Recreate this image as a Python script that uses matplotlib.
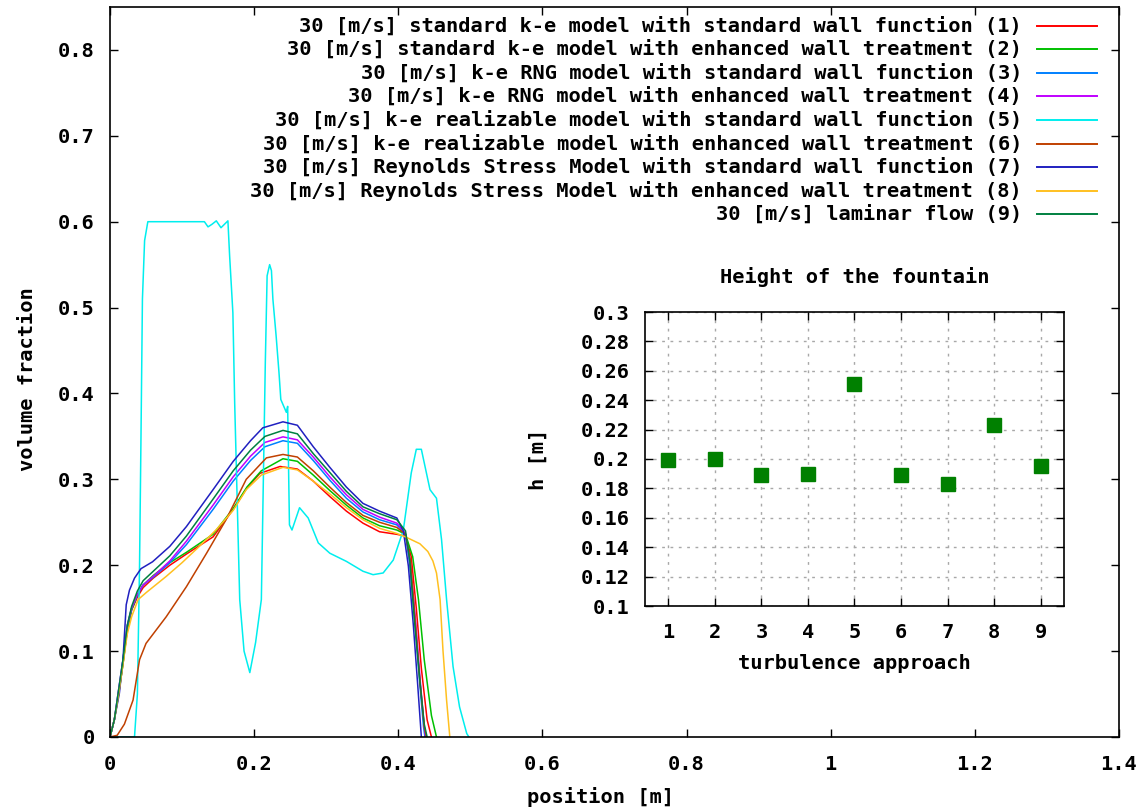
import matplotlib
matplotlib.use("Agg")
import matplotlib.pyplot as plt

plt.rcParams['font.family'] = ['DejaVu Sans Mono']
plt.rcParams['font.weight'] = 'bold'
plt.rcParams['axes.labelweight'] = 'bold'
plt.rcParams['axes.titleweight'] = 'bold'
FS = 14.7

# ---- volume fraction profiles along the channel (position [m], volume fraction) ----
pos_1 = [0.000, 0.006, 0.012, 0.018, 0.024, 0.030, 0.038, 0.046, 0.060, 0.083,
         0.106, 0.143, 0.171, 0.190, 0.208, 0.236, 0.260, 0.282, 0.305, 0.328,
         0.351, 0.374, 0.398, 0.410, 0.418, 0.425, 0.432, 0.440, 0.446]
vf_1 = [0.000, 0.020, 0.050, 0.085, 0.125, 0.148, 0.163, 0.174, 0.185, 0.200,
        0.213, 0.233, 0.265, 0.290, 0.307, 0.315, 0.312, 0.298, 0.280, 0.263,
        0.249, 0.239, 0.236, 0.234, 0.210, 0.150, 0.080, 0.020, 0.000]

pos_2 = [0.000, 0.006, 0.012, 0.018, 0.024, 0.030, 0.038, 0.046, 0.060, 0.083,
         0.106, 0.143, 0.171, 0.190, 0.210, 0.240, 0.260, 0.282, 0.305, 0.328,
         0.351, 0.374, 0.398, 0.410, 0.420, 0.428, 0.436, 0.446, 0.453]
vf_2 = [0.000, 0.020, 0.050, 0.085, 0.125, 0.148, 0.165, 0.177, 0.188, 0.203,
        0.215, 0.236, 0.266, 0.291, 0.310, 0.324, 0.321, 0.305, 0.287, 0.270,
        0.255, 0.246, 0.241, 0.236, 0.210, 0.160, 0.090, 0.025, 0.000]

pos_3 = [0.000, 0.006, 0.012, 0.018, 0.024, 0.030, 0.038, 0.046, 0.060, 0.083,
         0.106, 0.143, 0.171, 0.195, 0.215, 0.240, 0.260, 0.282, 0.305, 0.328,
         0.351, 0.374, 0.398, 0.410, 0.416, 0.423, 0.430, 0.435, 0.437]
vf_3 = [0.000, 0.020, 0.055, 0.090, 0.130, 0.150, 0.166, 0.177, 0.186, 0.203,
        0.224, 0.265, 0.298, 0.322, 0.338, 0.345, 0.342, 0.322, 0.299, 0.278,
        0.262, 0.253, 0.247, 0.236, 0.200, 0.135, 0.060, 0.012, 0.000]

pos_4 = [0.000, 0.006, 0.012, 0.018, 0.024, 0.030, 0.038, 0.046, 0.060, 0.083,
         0.106, 0.143, 0.171, 0.195, 0.215, 0.240, 0.260, 0.282, 0.305, 0.328,
         0.351, 0.374, 0.398, 0.410, 0.417, 0.424, 0.431, 0.436, 0.438]
vf_4 = [0.000, 0.020, 0.055, 0.090, 0.130, 0.150, 0.166, 0.177, 0.187, 0.205,
        0.228, 0.270, 0.303, 0.327, 0.343, 0.3495, 0.346, 0.326, 0.303, 0.282,
        0.265, 0.256, 0.249, 0.237, 0.200, 0.135, 0.060, 0.012, 0.000]

pos_5 = [0.000, 0.034, 0.038, 0.041, 0.043, 0.045, 0.048, 0.0525,
         0.131, 0.136, 0.1415, 0.1475, 0.154, 0.1636,
         0.166, 0.1705, 0.173, 0.180, 0.186, 0.194, 0.202, 0.210,
         0.2155, 0.218, 0.2215, 0.224, 0.226, 0.2305, 0.2345, 0.237,
         0.2447, 0.2465, 0.248, 0.249, 0.2525, 0.263, 0.275, 0.289,
         0.305, 0.328, 0.351, 0.365, 0.379, 0.393, 0.407, 0.418,
         0.425, 0.432, 0.444, 0.453, 0.460, 0.467, 0.476, 0.485,
         0.495, 0.498]
vf_5 = [0.000, 0.000, 0.050, 0.200, 0.350, 0.510, 0.578, 0.600,
        0.600, 0.594, 0.597, 0.601, 0.593, 0.601,
        0.560, 0.494, 0.389, 0.160, 0.100, 0.075, 0.110, 0.160,
        0.436, 0.537, 0.550, 0.543, 0.510, 0.467, 0.424, 0.393,
        0.378, 0.385, 0.300, 0.247, 0.241, 0.267, 0.255, 0.226,
        0.214, 0.2045, 0.193, 0.189, 0.191, 0.206, 0.241, 0.3075,
        0.335, 0.335, 0.288, 0.278, 0.230, 0.160, 0.082, 0.035,
        0.004, 0.000]

pos_6 = [0.000, 0.010, 0.020, 0.032, 0.041, 0.050, 0.078, 0.106, 0.134, 0.161,
         0.189, 0.217, 0.240, 0.260, 0.282, 0.305, 0.328, 0.351, 0.374, 0.398,
         0.410, 0.417, 0.423, 0.430, 0.436, 0.439]
vf_6 = [0.000, 0.002, 0.015, 0.043, 0.090, 0.109, 0.140, 0.175, 0.214, 0.253,
        0.300, 0.325, 0.329, 0.326, 0.310, 0.291, 0.273, 0.258, 0.250, 0.244,
        0.236, 0.205, 0.140, 0.065, 0.012, 0.000]

pos_7 = [0.000, 0.006, 0.013, 0.018, 0.0225, 0.027, 0.034, 0.043, 0.059, 0.083,
         0.106, 0.143, 0.171, 0.195, 0.212, 0.240, 0.260, 0.282, 0.305, 0.328,
         0.351, 0.374, 0.398, 0.407, 0.414, 0.421, 0.427, 0.432]
vf_7 = [0.000, 0.020, 0.051, 0.090, 0.154, 0.171, 0.185, 0.196, 0.204, 0.222,
        0.245, 0.288, 0.321, 0.345, 0.360, 0.367, 0.363, 0.338, 0.314, 0.291,
        0.272, 0.263, 0.255, 0.240, 0.199, 0.129, 0.060, 0.000]

pos_8 = [0.000, 0.006, 0.012, 0.018, 0.024, 0.030, 0.039, 0.050, 0.078, 0.100,
         0.124, 0.147, 0.171, 0.189, 0.210, 0.240, 0.260, 0.282, 0.305, 0.328,
         0.351, 0.374, 0.398, 0.410, 0.420, 0.430, 0.441, 0.448, 0.453, 0.458,
         0.462, 0.467, 0.4715]
vf_8 = [0.000, 0.020, 0.050, 0.085, 0.120, 0.140, 0.160, 0.168, 0.187, 0.203,
        0.222, 0.241, 0.264, 0.288, 0.305, 0.314, 0.311, 0.298, 0.283, 0.267,
        0.253, 0.243, 0.237, 0.233, 0.229, 0.225, 0.216, 0.205, 0.191, 0.160,
        0.101, 0.043, 0.000]

pos_9 = [0.000, 0.006, 0.012, 0.018, 0.024, 0.030, 0.038, 0.046, 0.060, 0.083,
         0.106, 0.143, 0.171, 0.195, 0.215, 0.240, 0.260, 0.282, 0.305, 0.328,
         0.351, 0.374, 0.398, 0.410, 0.416, 0.422, 0.430, 0.436, 0.440]
vf_9 = [0.000, 0.020, 0.055, 0.090, 0.130, 0.152, 0.170, 0.182, 0.193, 0.211,
        0.234, 0.277, 0.310, 0.334, 0.350, 0.357, 0.353, 0.330, 0.308, 0.286,
        0.268, 0.260, 0.253, 0.240, 0.205, 0.140, 0.065, 0.015, 0.000]

series_labels = [
    "30 [m/s] standard k-e model with standard wall function (1)",
    "30 [m/s] standard k-e model with enhanced wall treatment (2)",
    "30 [m/s] k-e RNG model with standard wall function (3)",
    "30 [m/s] k-e RNG model with enhanced wall treatment (4)",
    "30 [m/s] k-e realizable model with standard wall function (5)",
    "30 [m/s] k-e realizable model with enhanced wall treatment (6)",
    "30 [m/s] Reynolds Stress Model with standard wall function (7)",
    "30 [m/s] Reynolds Stress Model with enhanced wall treatment (8)",
    "30 [m/s] laminar flow (9)",
]
series_colors = ["#ff0000", "#00c000", "#0080ff", "#c000ff", "#00eeee",
                 "#c04000", "#2020c0", "#ffc020", "#008040"]

x_ticks = [0, 0.2, 0.4, 0.6, 0.8, 1.0, 1.2, 1.4]
x_tick_labels = ["0", "0.2", "0.4", "0.6", "0.8", "1", "1.2", "1.4"]
y_ticks = [0, 0.1, 0.2, 0.3, 0.4, 0.5, 0.6, 0.7, 0.8]
y_tick_labels = ["0", "0.1", "0.2", "0.3", "0.4", "0.5", "0.6", "0.7", "0.8"]

# ---- fountain height per turbulence approach ----
approach = [1, 2, 3, 4, 5, 6, 7, 8, 9]
height = [0.199, 0.200, 0.189, 0.190, 0.251, 0.189, 0.183, 0.223, 0.195]
h_ticks = [0.10, 0.12, 0.14, 0.16, 0.18, 0.20, 0.22, 0.24, 0.26, 0.28, 0.30]
h_tick_labels = ["0.1", "0.12", "0.14", "0.16", "0.18", "0.2",
                 "0.22", "0.24", "0.26", "0.28", "0.3"]

W, H = 1145, 809
fig = plt.figure(figsize=(W / 100, H / 100), dpi=100)

# main panel
ax = fig.add_axes([110 / W, 1 - 737 / H, 1009 / W, 730 / H])
profiles = [(pos_1, vf_1), (pos_2, vf_2), (pos_3, vf_3), (pos_4, vf_4),
            (pos_5, vf_5), (pos_6, vf_6), (pos_7, vf_7), (pos_8, vf_8),
            (pos_9, vf_9)]
for (p, v), c in zip(profiles, series_colors):
    ax.plot(p, v, color=c, lw=1.1)

ax.set_xlim(0, 1.4)
ax.set_ylim(0, 0.85)
ax.set_xticks(x_ticks)
ax.set_xticklabels(x_tick_labels)
ax.set_yticks(y_ticks)
ax.set_yticklabels(y_tick_labels)
ax.tick_params(direction='in', length=6, width=1, top=True, right=True,
               labelsize=FS)
ax.tick_params(axis='x', pad=13)
ax.tick_params(axis='y', pad=11)
for s in ax.spines.values():
    s.set_linewidth(1.2)
ax.set_xlabel("position [m]", fontsize=FS, fontweight='bold')
ax.xaxis.set_label_coords(0.4866, -0.0685)
ax.set_ylabel("volume fraction", fontsize=FS, fontweight='bold')
ax.yaxis.set_label_coords(-0.0723, 0.49)

# key: right-aligned text with the line sample to its right
y0, dy = 0.9744, 0.03233
for i, (lab, c) in enumerate(zip(series_labels, series_colors)):
    yy = y0 - i * dy
    ax.text(0.904, yy, lab, transform=ax.transAxes, ha='right', va='center',
            fontsize=FS, fontweight='bold')
    ax.plot([0.9187, 0.978], [yy, yy], transform=ax.transAxes, color=c,
            lw=1.4, clip_on=False)

# inset panel
ax2 = fig.add_axes([645 / W, 1 - 606 / H, 419 / W, 294 / H])
ax2.plot(approach, height, linestyle='none', marker='s', markersize=9.4,
         color='#008000')
ax2.set_xlim(0.5, 9.5)
ax2.set_ylim(0.1, 0.3)
ax2.set_xticks(approach)
ax2.set_xticklabels([str(a) for a in approach])
ax2.set_yticks(h_ticks)
ax2.set_yticklabels(h_tick_labels)
ax2.tick_params(direction='in', length=6, width=1, top=True, right=True,
                labelsize=FS)
ax2.tick_params(axis='x', pad=12)
ax2.tick_params(axis='y', pad=11)
ax2.grid(True, color='#a8a8a8', linestyle=(0, (2, 4)), linewidth=1)
for s in ax2.spines.values():
    s.set_linewidth(1.2)
ax2.set_title("Height of the fountain", fontsize=FS, fontweight='bold', pad=21)
ax2.set_xlabel("turbulence approach", fontsize=FS, fontweight='bold')
ax2.xaxis.set_label_coords(0.5, -0.163)
ax2.set_ylabel("h [m]", fontsize=FS, fontweight='bold')
ax2.yaxis.set_label_coords(-0.2315, 0.5)

fig.savefig("out.png", dpi=100)
